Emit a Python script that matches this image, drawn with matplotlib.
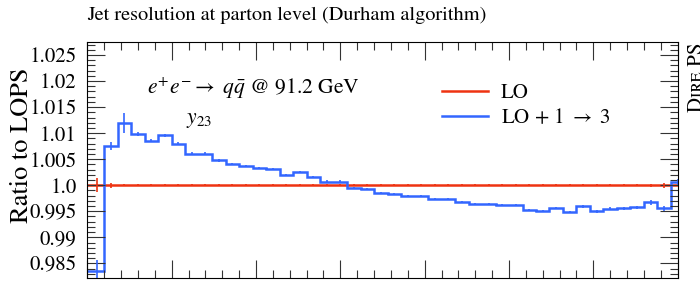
import numpy as np
import matplotlib
matplotlib.use("Agg")
import matplotlib.pyplot as plt
from matplotlib.ticker import MultipleLocator, FixedLocator, FixedFormatter

plt.rcParams['font.family'] = ['STIXGeneral', 'DejaVu Serif']
plt.rcParams['mathtext.fontset'] = 'stix'

# ---- data ----
bin_edges = np.round(np.arange(-0.12, 7.09, 0.16), 2)   # 45 bins
lo_values = np.ones(45)
lo_errors = [0.0, 0.0013, 0.0005, 0.0002, 0.0002, 0.0002, 0.0002, 0.0002, 0.0002, 0.0002,
             0.0002, 0.0002, 0.0002, 0.0002, 0.0002, 0.0002, 0.0002, 0.0002, 0.0002, 0.0002,
             0.0002, 0.0002, 0.0002, 0.0002, 0.0002, 0.0002, 0.0002, 0.0002, 0.0002, 0.0002,
             0.0002, 0.0002, 0.0002, 0.0002, 0.0002, 0.0002, 0.0002, 0.0002, 0.0002, 0.0002,
             0.0002, 0.0002, 0.0003, 0.0005, 0.0]
nlo_values = [0.9835, 0.98347, 1.00755, 1.01201, 1.00985, 1.00856, 1.0096, 1.00793, 1.00607, 1.00607,
              1.00481, 1.00404, 1.00366, 1.00333, 1.0031, 1.00199, 1.00251, 1.00155, 1.00071, 1.00071,
              0.99944, 0.99925, 0.99849, 0.99831, 0.99787, 0.99787, 0.99734, 0.99734, 0.99672, 0.99648,
              0.99648, 0.99615, 0.99615, 0.99529, 0.99506, 0.99557, 0.99494, 0.99592, 0.99496, 0.99548,
              0.99554, 0.99577, 0.99669, 0.99557, 1.00056]
nlo_errors = [0.0, 0.0022, 0.0007, 0.0019, 0.0004, 0.0003, 0.0003, 0.0003, 0.0003, 0.0003,
              0.0003, 0.0002, 0.0002, 0.0002, 0.0002, 0.0002, 0.0002, 0.0002, 0.0002, 0.0002,
              0.0002, 0.0002, 0.0002, 0.0002, 0.0002, 0.0002, 0.0002, 0.0002, 0.0002, 0.0002,
              0.0002, 0.0002, 0.0002, 0.0002, 0.0002, 0.0002, 0.0002, 0.0002, 0.0002, 0.0003,
              0.0003, 0.0003, 0.0004, 0.0005, 0.0006]
y_ticks = [0.985, 0.99, 0.995, 1.0, 1.005, 1.01, 1.015, 1.02, 1.025]
y_ticklabels = ['0.985', '0.99', '0.995', '1.0', '1.005', '1.01', '1.015', '1.02', '1.025']
series_labels = ['LO', r'LO + 1 $\rightarrow$ 3']
red = '#EE3311'
blue = '#3366FF'

fig = plt.figure(figsize=(7.0, 2.81), dpi=100)
ax = fig.add_axes([87.3/700, 1-277.7/281, 590.4/700, 236/281])

centers = 0.5 * (bin_edges[:-1] + bin_edges[1:])
l1 = ax.stairs(lo_values, bin_edges, color=red, lw=1.8, label=series_labels[0])
ax.errorbar(centers, lo_values, yerr=lo_errors, fmt='none', ecolor=red, elinewidth=1.2)
l2 = ax.stairs(nlo_values, bin_edges, color=blue, lw=1.8, label=series_labels[1])
ax.errorbar(centers, nlo_values, yerr=nlo_errors, fmt='none', ecolor=blue, elinewidth=1.2)

ax.set_xlim(0, 7.0)
ax.set_ylim(0.98225, 1.02755)
ax.xaxis.set_major_locator(MultipleLocator(1))
ax.xaxis.set_minor_locator(MultipleLocator(0.2))
ax.yaxis.set_major_locator(FixedLocator(y_ticks))
ax.yaxis.set_major_formatter(FixedFormatter(y_ticklabels))
ax.yaxis.set_minor_locator(MultipleLocator(0.001))
ax.tick_params(which='both', direction='in', top=True, right=True, color='#333333', width=0.8)
ax.tick_params(which='major', length=13)
ax.tick_params(which='minor', length=6)
ax.tick_params(axis='x', labelbottom=False)
ax.tick_params(axis='y', labelsize=15, pad=7.6)
for s in ax.spines.values():
    s.set_linewidth(0.8)

ax.text(0.1006, 0.8025, r'$e^{+}e^{-} \rightarrow\ q\bar{q}$ @ 91.2 GeV', transform=ax.transAxes,
        fontsize=15.5, ha='left', va='center')
ax.text(0.168, 0.668, r'$y_{23}$', transform=ax.transAxes, fontsize=15.5, ha='left', va='center')

ax.legend(handles=[l1, l2], labels=series_labels, loc='upper left', bbox_to_anchor=(0.6003, 0.824),
          frameon=False, fontsize=15, handlelength=2.2, handletextpad=0.64, labelspacing=0.26,
          borderpad=0, borderaxespad=0)

fig.text(87.3/700, 1-15/281, 'Jet resolution at parton level (Durham algorithm)', fontsize=14.6,
         ha='left', va='center')
fig.text(22/700, 1-145/281, 'Ratio to LOPS', rotation=90, fontsize=19, ha='center', va='center')
fig.text(697/700, 1-42/281, 'D\u026a\u0280\u1d07 PS', rotation=90, fontsize=15, ha='center', va='top',
         family=['STIXGeneral', 'DejaVu Serif', 'DejaVu Sans'])

fig.savefig('out.png', dpi=100)
